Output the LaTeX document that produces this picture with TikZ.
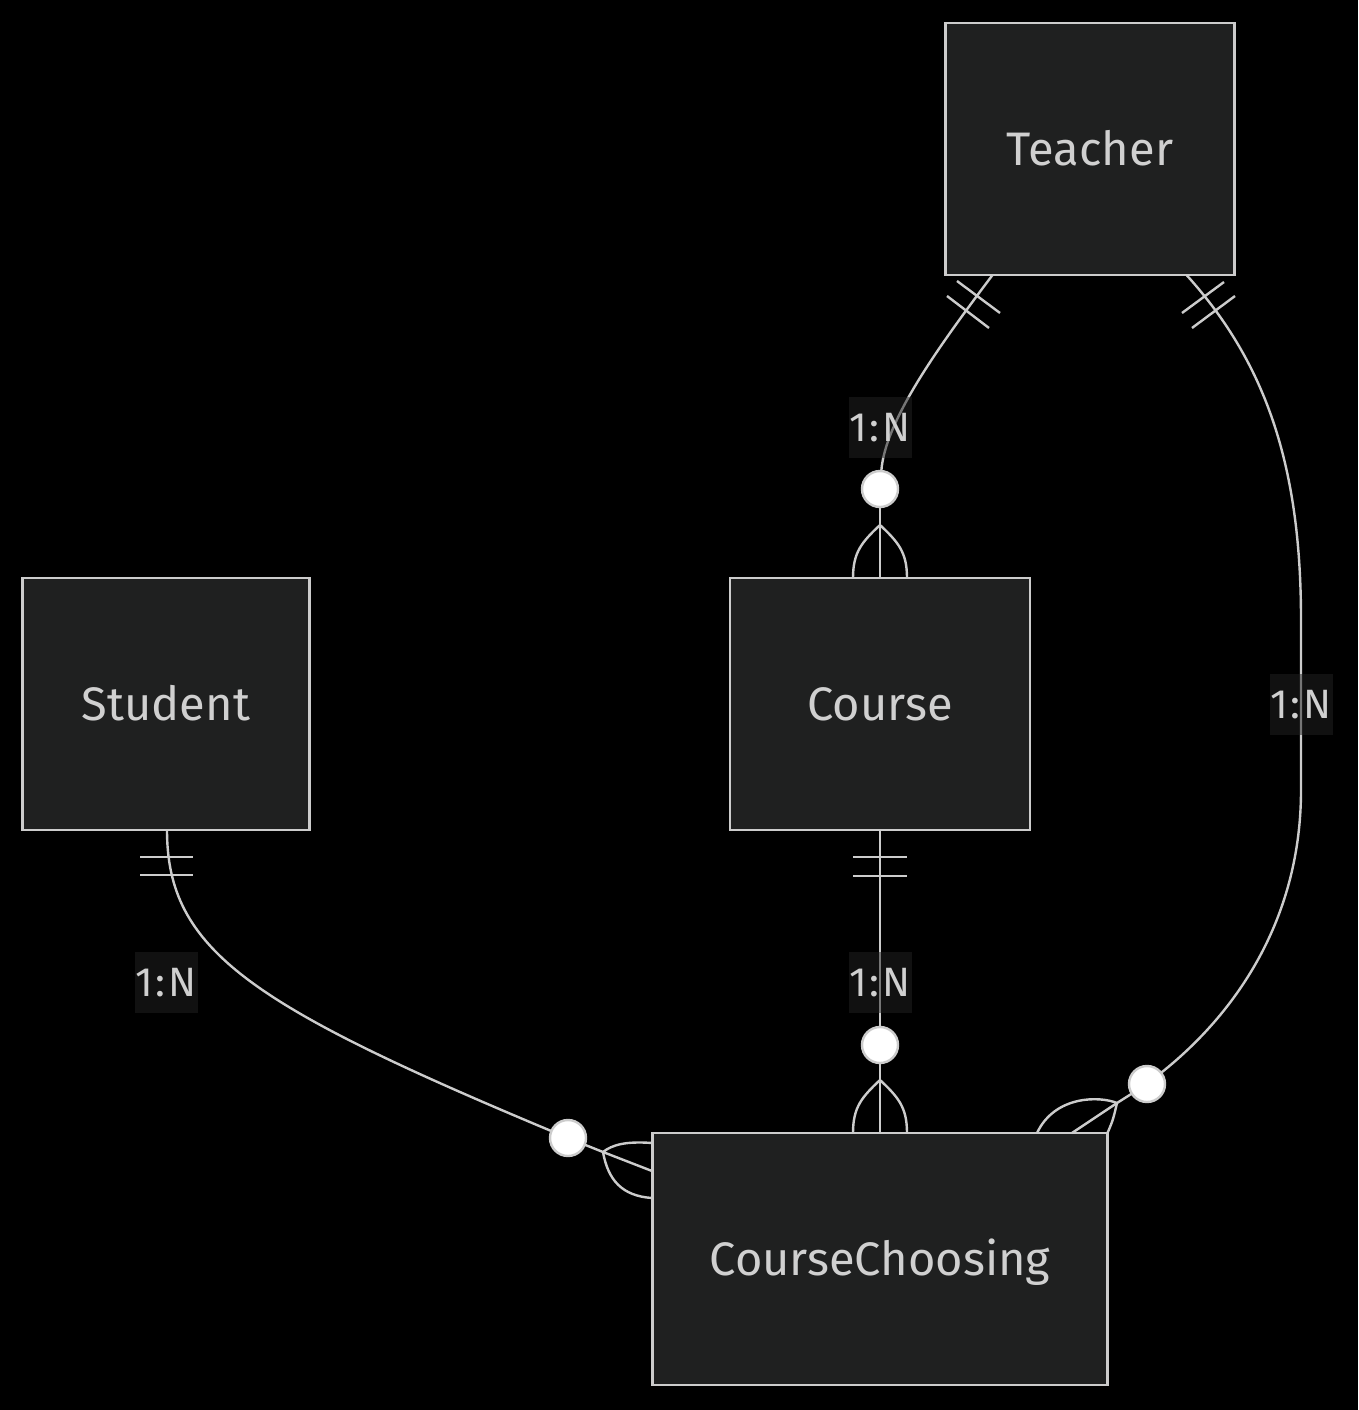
\documentclass[tikz,border=0pt]{standalone}
\usepackage{fontspec}
\setmainfont{Fira Sans}
\usetikzlibrary{positioning}
\definecolor{boxfill}{HTML}{1F2020}
\definecolor{lineclr}{HTML}{CCCCCC}
\definecolor{txtclr}{HTML}{D0D0D0}
\definecolor{lblfill}{HTML}{222222}
\newcommand{\onen}{1\kern3pt:\kern3pt N}
\tikzset{
  entity/.style={draw=lineclr,line width=2.8pt,fill=boxfill,text=txtclr,
    minimum height=252pt,inner sep=0pt,outer sep=0pt,
    text height=32pt,text depth=0pt,font=\fontsize{47}{56}\selectfont},
  conn/.style={draw=lineclr,line width=2.4pt},
  zero/.style={circle,draw=lineclr,line width=2.4pt,fill=white,
    minimum size=36pt,inner sep=0pt,outer sep=0pt},
  card/.style={fill=lblfill,fill opacity=0.5,text opacity=1,text=txtclr,
    minimum width=63pt,minimum height=61pt,inner sep=0pt,
    text height=29pt,text depth=0pt,font=\fontsize{41}{49}\selectfont}
}
\begin{document}
\begin{tikzpicture}[x=1pt,y=-1pt]
\fill[black] (0,0) rectangle (1358,1410);
\useasboundingbox (0,0) rectangle (1358,1410);

% entities
\node[entity,minimum width=289pt] (teacher) at (1090,149) {Teacher};
\node[entity,minimum width=287pt] (student) at (166,704) {Student};
\node[entity,minimum width=300pt] (course) at (880,704) {Course};
\node[entity,minimum width=455pt] (choosing) at (880,1259) {CourseChoosing};

% zero-or-many circles
\node[zero] (zcourse) at (880,489) {};
\node[zero] (zchoose) at (880,1045) {};
\node[zero] (zteach) at (1147,1084) {};
\node[zero] (zstud) at (568,1138) {};

% crow's foot tips
\coordinate (tcourse) at (880,525);
\coordinate (tchoose) at (880,1080);
\coordinate (tteach) at (1117,1103);
\coordinate (tstud) at (603,1152);

% relations
\draw[conn] ([xshift=47pt]teacher.south west) .. controls (940,345) and (885,420) .. (zcourse);
\draw[conn] ([xshift=-48pt]teacher.south east) .. controls (1268,365) and (1301,470) .. (1301,620)
  -- (1301,790) .. controls (1301,915) and (1240,1010) .. (zteach);
\draw[conn] ([xshift=1pt]student.south) .. controls (167,950) and (250,1005) .. (zstud);
\draw[conn] (course.south) -- (zchoose);

% exactly-one bars
\draw[conn] (957,281) -- (1000,313);
\draw[conn] (947,296) -- (989,328);
\draw[conn] (1182,313) -- (1224,282);
\draw[conn] (1192,328) -- (1235,296);
\draw[conn] (140,857) -- (193,857);
\draw[conn] (140,875) -- (193,875);
\draw[conn] (853,857) -- (907,857);
\draw[conn] (853,876) -- (907,876);

% many feet
\draw[conn] (zcourse) -- (tcourse) -- (course.north);
\draw[conn] (853,578) .. controls (853,552) and (862,542) .. (tcourse);
\draw[conn] (907,578) .. controls (907,552) and (898,542) .. (tcourse);

\draw[conn] (zchoose) -- (tchoose) -- (choosing.north);
\draw[conn] (853,1133) .. controls (853,1107) and (862,1097) .. (tchoose);
\draw[conn] (907,1133) .. controls (907,1107) and (898,1097) .. (tchoose);

\draw[conn] (zteach) -- (tteach) -- (1072,1133);
\draw[conn] (1037,1133) .. controls (1055,1095) and (1100,1096) .. (tteach);
\draw[conn] (choosing.north east) .. controls (1113,1120) .. (tteach);

\draw[conn] (zstud) -- (tstud) -- (652,1171);
\draw[conn] (652,1143) .. controls (625,1141) and (612,1145) .. (tstud);
\draw[conn] (652,1198) .. controls (622,1196) and (608,1180) .. (tstud);

% cardinality labels
\node[card] (lcourse) at (880,427) {\onen};
\node[card] (lteach) at (1301,704) {\onen};
\node[card] (lstud) at (166,982) {\onen};
\node[card] (lchoose) at (880,982) {\onen};
\end{tikzpicture}
\end{document}
